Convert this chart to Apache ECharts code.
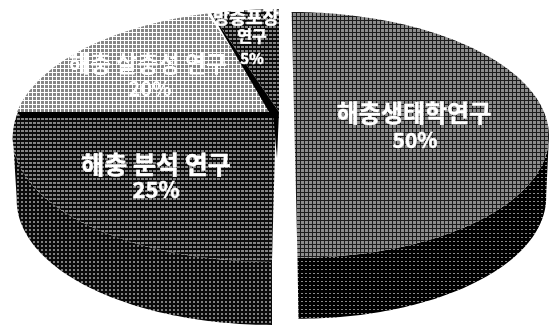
<!DOCTYPE html>
<html>
<head>
<meta charset="utf-8">
<style>html,body{margin:0;padding:0;background:#fff}#chart{width:551px;height:327px}</style>
<script src="https://cdn.jsdelivr.net/npm/echarts@6/dist/echarts.min.js"></script>
</head>
<body>
<div id="chart"></div>
<script>
// Research area shares, clockwise from 12 o'clock
const categories = ['해충생태학연구', '해충 분석 연구', '해충 살충성 연구', '방충포장 연구'];
const shares = [50, 25, 20, 5];

// Label lines for each slice: [text, x, y, font size]
const labelLines = [
  [['해충생태학연구', 414, 113, 24], ['50%', 415, 140, 21]],
  [['해충 분석 연구', 156, 164, 25], ['25%', 156, 190, 22]],
  [['해충 살충성 연구', 148, 63, 23], ['20%', 150, 88, 20]],
  [['방충포장', 246, 17, 18], ['연구', 252, 36, 16], ['5%', 252, 58, 15]]
];

// Perspective disc geometry per slice (exploded centres)
const K = 0.186;
const WALL_SCALE = 0.985;
const discs = [
  { cx: 294, cy: 112, a: 250, b: 118.6, lean: 0.024, depth: 61, dx: 1 },
  { cx: 276, cy: 112, a: 258, b: 122, lean: -0.027, depth: 63, dx: 0 },
  { cx: 275, cy: 112, a: 258, b: 122, lean: 0, depth: 0, dx: 0 },
  { cx: 279, cy: 112, a: 258, b: 122, lean: 0, depth: 0, dx: 0 }
];
// Rim angles where the projected disc reaches its widest point
const TANGENT = Math.acos(-K) * 180 / Math.PI;

// Halftone fills built from small repeating tiles
function tile(base, ink, cells) {
  const c = document.createElement('canvas');
  c.width = c.height = 4;
  const g = c.getContext('2d');
  g.fillStyle = base;
  g.fillRect(0, 0, 4, 4);
  g.fillStyle = ink;
  cells.forEach(r => g.fillRect(r[0], r[1], r[2], r[3]));
  return { image: c, repeat: 'repeat' };
}
const fills = {
  gridMid: tile('#8c8c8c', '#1c1c1c', [[0, 0, 4, 1], [0, 0, 1, 4]]),
  gridDark: tile('#858585', '#0c0c0c', [[0, 0, 4, 2], [0, 0, 1, 4]]),
  dots: tile('#ffffff', '#858585', [[1, 1, 3, 3]]),
  wallRight: tile('#000000', '#8a8a8a', [[1, 1, 2, 1]]),
  wallLeft: tile('#0a0a0a', '#7f7f7f', [[1, 1, 2, 2]])
};
const topFills = [fills.gridMid, fills.gridDark, fills.dots, fills.gridDark];
const wallFills = [fills.wallRight, fills.wallLeft, null, null];
const stacking = [4, 3, 1, 2];

function project(d, deg) {
  const t = deg * Math.PI / 180;
  const u = Math.sin(t), v = Math.cos(t), w = 1 + K * v;
  const y = d.cy - d.b * v / w;
  return [d.cx + d.a * u / w + d.lean * (y - d.cy), y];
}
function arc(d, from, to) {
  const pts = [];
  const steps = Math.max(2, Math.ceil(to - from));
  for (let i = 0; i <= steps; i++) pts.push(project(d, from + (to - from) * i / steps));
  return pts;
}
function poly(points, fill, z2) {
  return { type: 'polygon', shape: { points }, style: { fill, stroke: null }, z2, silent: true };
}

function renderSlice(params, api) {
  const i = params.dataIndex;
  const value = api.value(0);
  const total = shares.reduce((s, x) => s + x, 0);
  const before = shares.slice(0, i).reduce((s, x) => s + x, 0);
  const from = before / total * 360;
  const to = from + value / total * 360;
  const d = discs[i];
  const base = stacking[i] * 10;
  const rim = arc(d, from, to);
  const apex = [d.cx, d.cy];
  const children = [];

  if (d.depth) {
    // Only the rim between the widest points shows a side wall; its lower edge sits slightly inward
    const visible = arc(d, Math.max(from, TANGENT), Math.min(to, 360 - TANGENT));
    const lower = visible.map(p => [d.cx + (p[0] - d.cx) * WALL_SCALE + d.dx, p[1] + d.depth]).reverse();
    children.push(poly(visible.concat(lower), wallFills[i], base));
  }
  children.push(poly(rim.concat([apex]), topFills[i], base + 1));

  // Dark seams along the exploded cut faces
  if (i === 1) {
    const edge = project(d, to);
    children.push(poly([edge, apex, [apex[0] + 3, apex[1] + 6], [edge[0] + 3, edge[1] + 6]], '#000', base + 2));
    children.push(poly([[apex[0] - 3, apex[1]], [apex[0] + 3, apex[1]], [apex[0] + 1, apex[1] + 46]], '#000', base + 2));
  }
  if (i === 3) {
    const edge = project(d, from);
    children.push(poly([edge, apex, [apex[0] - 10, apex[1]]], '#000', base + 2));
  }

  labelLines[i].forEach(line => {
    children.push({
      type: 'text', z2: 100, silent: true,
      style: {
        text: line[0], x: line[1], y: line[2], fill: '#fff',
        stroke: i === 2 ? null : '#fff', lineWidth: 0.5,
        align: 'center', verticalAlign: 'middle',
        font: 'bold ' + line[3] + 'px "Noto Sans CJK KR"'
      }
    });
  });
  return { type: 'group', children };
}

const chart = echarts.init(document.getElementById('chart'), null, { renderer: 'canvas' });
chart.setOption({
  backgroundColor: '#ffffff',
  animation: false,
  tooltip: { show: false },
  series: [{
    type: 'custom',
    coordinateSystem: 'none',
    renderItem: renderSlice,
    data: shares.map((v, i) => ({ name: categories[i], value: [v] }))
  }]
});
</script>
</body>
</html>
